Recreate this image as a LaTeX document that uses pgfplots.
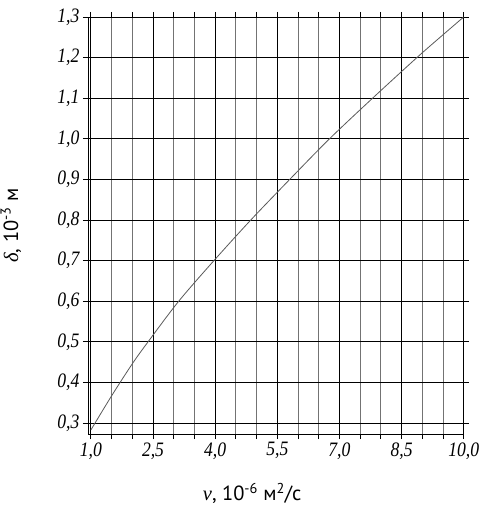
\documentclass[border=0pt]{standalone}
\usepackage{fontspec}
\setmainfont{Liberation Serif}
\newfontfamily\tickfont{Liberation Serif}[FakeStretch=0.86]
\newfontfamily\labfont{PT Sans}
\usepackage{pgfplots}
\pgfplotsset{compat=1.18}
\begin{document}
\begin{tikzpicture}
\path[use as bounding box] (-88pt,-74pt) rectangle (390.7pt,434pt);
\begin{axis}[
    scale only axis,
    width=375.7pt,
    height=417pt,
    xmin=0.93, xmax=10,
    ymin=0.273, ymax=1.3,
    xtick={1,2.5,4,5.5,7,8.5,10},
    minor xtick={1.5,2,3,3.5,4.5,5,6,6.5,7.5,8,9,9.5},
    ytick={0.3,0.4,0.5,0.6,0.7,0.8,0.9,1.0,1.1,1.2,1.3},
    grid=both,
    major grid style={black,line width=0.9pt},
    minor grid style={black!55,line width=0.9pt},
    axis line style={black,line width=0.9pt},
    tick align=outside,
    major tick length=5pt,
    minor tick length=5pt,
    tick style={black,line width=0.9pt},
    every tick label/.append style={font=\tickfont\itshape\fontsize{20.5}{22}\selectfont},
    /pgf/number format/.cd,fixed,fixed zerofill,precision=1,use comma,assume math mode=true,
    /pgfplots/.cd,
    xlabel={{\itshape ν}{\labfont, 10\textsuperscript{-6} м\textsuperscript{2}/с}},
    ylabel={{\itshape δ}{\labfont, 10\textsuperscript{-3} м}},
    label style={font=\fontsize{20.5}{22}\selectfont},
    xlabel style={at={(axis description cs:0.437,-0.143)},anchor=center},
    ylabel style={at={(axis description cs:-0.205,0.5)},anchor=center},
]
\addplot[color=black!65,line width=0.8pt,smooth] coordinates {
    (1.0,0.283) (1.5,0.367) (2.0,0.446) (2.38,0.5) (3.12,0.6) (3.97,0.7)
    (4.86,0.8) (5.8,0.9) (6.76,1.0) (7.8,1.1) (8.87,1.2) (9.43,1.25) (10.0,1.3)
};
\end{axis}
\end{tikzpicture}
\end{document}
